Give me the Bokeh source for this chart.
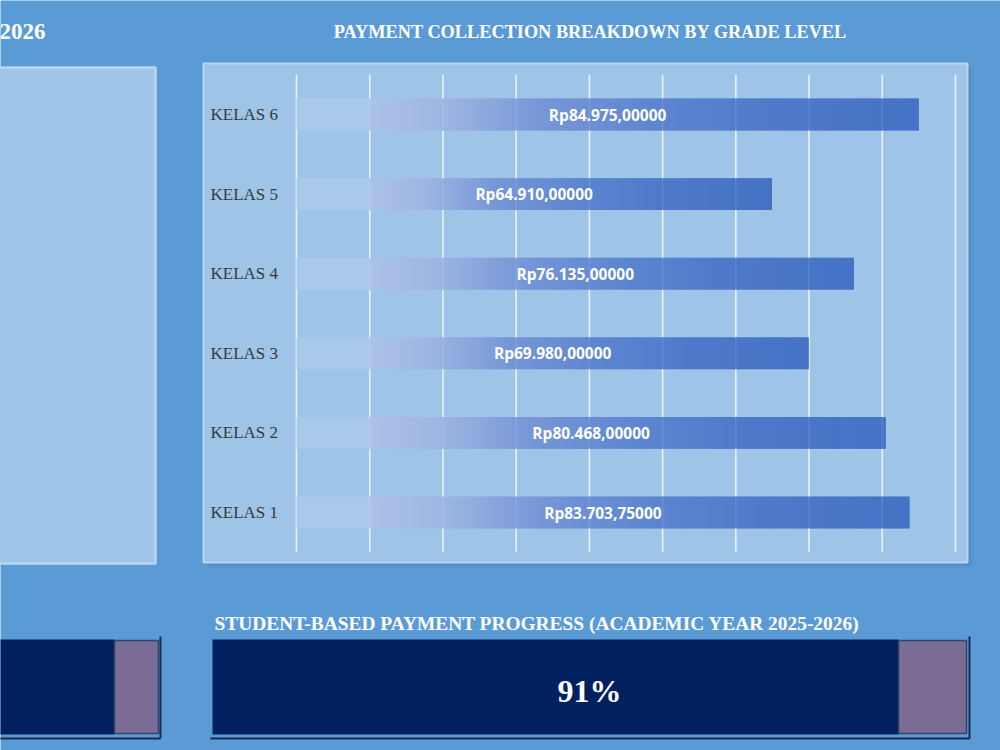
import numpy as np
from bokeh.plotting import figure
from bokeh.models import Range1d, ColumnDataSource
from bokeh.core.properties import value
from bokeh.embed import file_html
from bokeh.resources import INLINE

# Payments collected per grade level (Rp)
grades = ["KELAS 1", "KELAS 2", "KELAS 3", "KELAS 4", "KELAS 5", "KELAS 6"]
collected = [83703.75, 80468.00, 69980.00, 76135.00, 64910.00, 84975.00]
amount_ticks = [0, 10000, 20000, 30000, 40000, 50000, 60000, 70000, 80000, 90000]

# Share of students that have paid, and share of the billed amount
student_progress = 0.91
amount_progress = 0.91

W, H = 1000, 750
BG = "#5B9BD5"
PANEL = "#9EC4E8"
PANEL_EDGE = "#BBD6EF"
NAVY = "#002060"
PURPLE = "#7A6C94"
SERIF = value("Liberation Serif")
SANS = value("Open Sans")


def frame_range(px0, px1, v0, v1, size, vertical=False):
    """Range over the full frame that puts v0 at pixel px0 and v1 at pixel px1."""
    k = (v1 - v0) / (px1 - px0)
    at = lambda px: v0 + (px - px0) * k
    return Range1d(at(size), at(0)) if vertical else Range1d(at(0), at(size))


def hex_rgb(h):
    h = h.lstrip("#")
    return np.array([int(h[i:i + 2], 16) for i in (0, 2, 4)], dtype=float)


GRAD_STOPS = [(0.0, "#ADC2E8"), (0.14, "#9DB5E2"), (0.31, "#7797D7"),
              (0.53, "#5C85D0"), (0.73, "#5079CB"), (1.0, "#4573C5")]
HEAD_COLOR = "#A9C9EB"


def grad_color(t):
    for (t0, c0), (t1, c1) in zip(GRAD_STOPS[:-1], GRAD_STOPS[1:]):
        if t <= t1:
            f = (t - t0) / (t1 - t0)
            rgb = hex_rgb(c0) * (1 - f) + hex_rgb(c1) * f
            return "#%02x%02x%02x" % tuple(int(round(c)) for c in rgb)
    return GRAD_STOPS[-1][1]


def rupiah(v):
    s = f"{v:,.5f}"
    return "Rp" + s.replace(",", "_").replace(".", ",").replace("_", ".")


p = figure(width=W, height=H, x_range=Range1d(0, W), y_range=Range1d(H, 0),
           output_backend="svg", toolbar_location=None, min_border=0,
           x_axis_location=None, y_axis_location=None,
           background_fill_color=BG, border_fill_color=BG, outline_line_color=None)
p.grid.visible = False

p.extra_x_ranges = {
    "amt": frame_range(296, 955, 0, amount_ticks[-1], W),
    "prog": frame_range(212, 966, 0, 1, W),
    "prog_left": frame_range(114, 158, amount_progress, 1, W),
}
p.extra_y_ranges = {"grade": frame_range(512, 114, 0, len(grades) - 1, H, vertical=True)}

# ---- panels -------------------------------------------------------------
for off, a in [(6, 0.05), (4, 0.07), (2, 0.09)]:
    p.quad(left=203 + off, right=967 + off, top=63 + off, bottom=562 + off,
           fill_color="#1F4E79", fill_alpha=a, line_color=None)
p.quad(left=-10, right=155, top=67, bottom=563, fill_color=PANEL,
       line_color=PANEL_EDGE, line_width=2.5)
p.quad(left=203, right=967, top=63, bottom=562, fill_color=PANEL,
       line_color=PANEL_EDGE, line_width=2)

# ---- bar chart ----------------------------------------------------------
p.segment(x0=amount_ticks, x1=amount_ticks, y0=-0.5, y1=len(grades) - 0.5,
          x_range_name="amt", y_range_name="grade",
          line_color="#E8F1FA", line_width=1.6)

head = amount_ticks[1]
step = 400.0
bars = dict(left=[], right=[], bottom=[], top=[], color=[])
for i, v in enumerate(collected):
    edges = np.append(np.arange(0, v, step), v)
    for a, b in zip(edges[:-1], edges[1:]):
        mid = 0.5 * (a + b)
        col = HEAD_COLOR if mid < head else grad_color((mid - head) / (v - head))
        bars["left"].append(a)
        # each slice reaches a little under the next one so no seams show
        bars["right"].append(min(b + step * 0.6, v))
        bars["bottom"].append(i - 0.2)
        bars["top"].append(i + 0.2)
        bars["color"].append(col)
p.quad(left="left", right="right", bottom="bottom", top="top",
       fill_color="color", line_color=None,
       source=ColumnDataSource(bars), x_range_name="amt", y_range_name="grade")

# faint grid lines seen through the bars
p.segment(x0=amount_ticks, x1=amount_ticks, y0=-0.5, y1=len(grades) - 0.5,
          x_range_name="amt", y_range_name="grade",
          line_color="#FFFFFF", line_alpha=0.10, line_width=1.4)

labels = ColumnDataSource(dict(
    x=[v / 2 for v in collected], y=list(range(len(grades))),
    text=[rupiah(v) for v in collected]))
p.text(x="x", y="y", text="text", source=labels, x_range_name="amt",
       y_range_name="grade", text_align="center", text_baseline="middle",
       text_color="white", text_font=SANS, text_font_style="bold",
       text_font_size="15.5px")

p.text(x=210, y=list(range(len(grades))), text=grades, y_range_name="grade",
       text_align="left", text_baseline="middle", text_color="#3A3A3A",
       text_font=SERIF, text_font_size="17px")

p.text(x=[590], y=[31], text=["PAYMENT COLLECTION BREAKDOWN BY GRADE LEVEL"],
       text_align="center", text_baseline="middle", text_color="white",
       text_font=SERIF, text_font_style="bold", text_font_size="18.3px")
p.text(x=[45], y=[31], text=["2026"], text_align="right", text_baseline="middle",
       text_color="white", text_font=SERIF, text_font_style="bold",
       text_font_size="23px")

# ---- progress bars ------------------------------------------------------
for rng, prog in [("prog", student_progress), ("prog_left", amount_progress)]:
    p.segment(x0=[-0.003], x1=[1.004], y0=738, y1=738, x_range_name=rng,
              line_color="#1A2B4C", line_width=2)
    p.segment(x0=[1.004], x1=[1.004], y0=636, y1=738, x_range_name=rng,
              line_color="#1A2B4C", line_width=2)
    p.quad(left=[0], right=[prog], top=639, bottom=734, x_range_name=rng,
           fill_color=NAVY, line_color=None)
    p.quad(left=[prog], right=[1], top=640, bottom=733, x_range_name=rng,
           fill_color=PURPLE, line_color="#34456B", line_width=1.5)

p.text(x=[0.5], y=[690], text=[f"{round(student_progress * 100)}%"],
       x_range_name="prog", text_align="center", text_baseline="middle",
       text_color="white", text_font=SERIF, text_font_style="bold",
       text_font_size="32px")
p.text(x=[214], y=[623],
       text=["STUDENT-BASED PAYMENT PROGRESS (ACADEMIC YEAR 2025-2026)"],
       text_align="left", text_baseline="middle", text_color="white",
       text_font=SERIF, text_font_style="bold", text_font_size="19.4px")

open("out.html", "w").write(file_html(p, INLINE))
